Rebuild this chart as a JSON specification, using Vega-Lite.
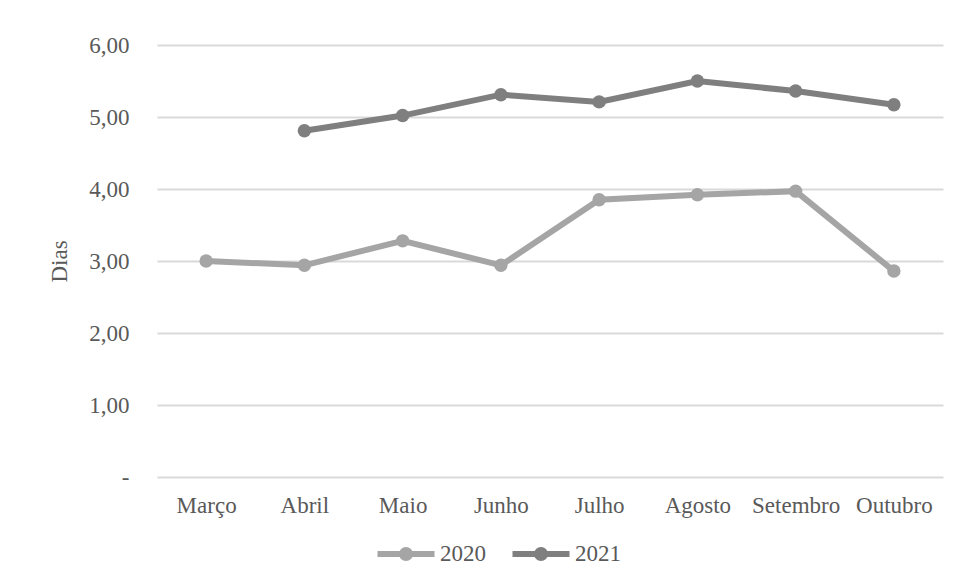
{
  "$schema": "https://vega.github.io/schema/vega-lite/v6.json",
  "width": 786,
  "height": 432,
  "autosize": {"type": "none"},
  "padding": {"left": 157, "top": 45, "right": 15, "bottom": 109},
  "background": "white",
  "config": {
    "view": {"stroke": null},
    "font": "Liberation Serif",
    "axis": {
      "labelFont": "Liberation Serif",
      "titleFont": "Liberation Serif",
      "labelColor": "#595959",
      "titleColor": "#595959",
      "labelFontSize": 23,
      "titleFontSize": 23,
      "titleFontWeight": "normal",
      "domain": false,
      "ticks": false,
      "gridColor": "#D9D9D9",
      "gridWidth": 2
    },
    "legend": {
      "labelFont": "Liberation Serif",
      "labelFontSize": 23,
      "labelColor": "#595959"
    }
  },
  "data": {
    "values": [
      {"mes": "Março", "ano": "2020", "dias": 3.00},
      {"mes": "Abril", "ano": "2020", "dias": 2.94},
      {"mes": "Maio", "ano": "2020", "dias": 3.28},
      {"mes": "Junho", "ano": "2020", "dias": 2.94},
      {"mes": "Julho", "ano": "2020", "dias": 3.85},
      {"mes": "Agosto", "ano": "2020", "dias": 3.92},
      {"mes": "Setembro", "ano": "2020", "dias": 3.97},
      {"mes": "Outubro", "ano": "2020", "dias": 2.86},
      {"mes": "Abril", "ano": "2021", "dias": 4.81},
      {"mes": "Maio", "ano": "2021", "dias": 5.02},
      {"mes": "Junho", "ano": "2021", "dias": 5.31},
      {"mes": "Julho", "ano": "2021", "dias": 5.21},
      {"mes": "Agosto", "ano": "2021", "dias": 5.50},
      {"mes": "Setembro", "ano": "2021", "dias": 5.36},
      {"mes": "Outubro", "ano": "2021", "dias": 5.17}
    ]
  },
  "encoding": {
    "x": {
      "field": "mes",
      "type": "nominal",
      "sort": ["Março", "Abril", "Maio", "Junho", "Julho", "Agosto", "Setembro", "Outubro"],
      "scale": {"paddingInner": 0, "paddingOuter": 0.5},
      "axis": {"title": null, "labelAngle": 0, "labelPadding": 17, "grid": false}
    },
    "y": {
      "field": "dias",
      "type": "quantitative",
      "scale": {"domain": [0, 6], "nice": false},
      "axis": {
        "title": "Dias",
        "values": [0, 1, 2, 3, 4, 5, 6],
        "labelExpr": "datum.value == 0 ? '-' : replace(format(datum.value, '.2f'), '.', ',')",
        "labelPadding": 28,
        "titlePadding": 17
      }
    },
    "color": {
      "field": "ano",
      "type": "nominal",
      "scale": {"domain": ["2020", "2021"], "range": ["#A5A5A5", "#7F7F7F"]},
      "legend": {
        "title": null,
        "orient": "none",
        "legendX": 217,
        "legendY": 477,
        "direction": "horizontal",
        "symbolType": "M-1,0L1,0M-0.14,0A0.14,0.14 0 1,1 0.14,0A0.14,0.14 0 1,1 -0.14,0",
        "symbolSize": 3250,
        "symbolStrokeWidth": 6,
        "symbolOpacity": 1,
        "labelOffset": 2,
        "columnPadding": 14
      }
    }
  },
  "layer": [
    {"mark": {"type": "line", "strokeWidth": 6}},
    {"mark": {"type": "point", "filled": true, "size": 180, "opacity": 1}}
  ]
}
